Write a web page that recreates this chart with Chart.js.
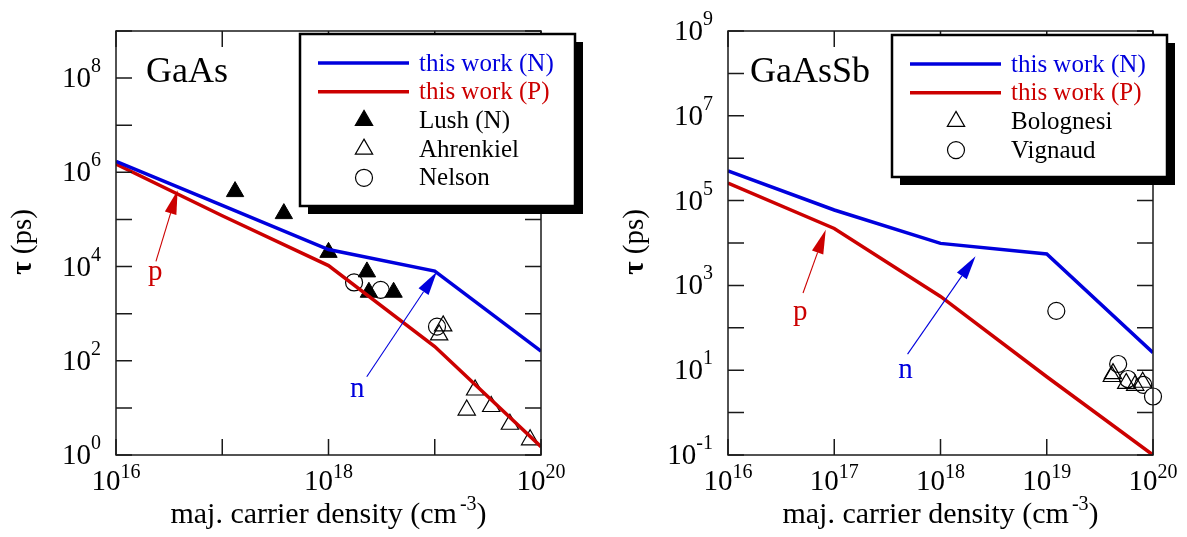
<!DOCTYPE html>
<html>
<head>
<meta charset="utf-8">
<script src="https://cdn.jsdelivr.net/npm/chart.js@4.4.0/dist/chart.umd.min.js"></script>
<style>
  html, body { margin: 0; padding: 0; background: #fff; }
  #wrap { position: relative; width: 1187px; height: 537px; overflow: hidden; }
  canvas { position: absolute; top: 0; }
  #gaas { left: 0; }
  #gaassb { left: 594px; }
</style>
</head>
<body>
<div id="wrap">
  <canvas id="gaas" width="593" height="537"></canvas>
  <canvas id="gaassb" width="593" height="537"></canvas>
</div>
<script>
// ---- data ----
const density = [1e16, 1e17, 1e18, 1e19, 1e20];

// GaAs
const gaasTauN = [1.7e6, 2.0e5, 2.3e4, 8.0e3, 1.6e2];
const gaasTauP = [1.5e6, 1.2e5, 1.05e4, 2.0e2, 1.5];
const lushDensity = [1.32e17, 3.8e17, 1.0e18, 2.3e18, 2.4e18, 4.1e18];
const lushTau = [3.9e5, 1.33e5, 2.0e4, 7.7e3, 2.85e3, 2.85e3];
const ahrenkielDensity = [1.2e19, 1.1e19, 2.4e19, 2.0e19, 3.4e19, 5.1e19, 7.9e19];
const ahrenkielTau = [550, 355, 24, 9, 10.7, 4.5, 2.1];
const nelsonDensity = [1.74e18, 3.1e18, 1.05e19];
const nelsonTau = [4.6e3, 3.2e3, 530];

// GaAsSb
const gaassbTauN = [5.0e5, 6.0e4, 9.8e3, 5.5e3, 26];
const gaassbTauP = [2.6e5, 2.2e4, 550, 7, 0.1];
const bolognesiDensity = [4.1e19, 4.2e19, 5.6e19, 6.8e19, 8.0e19];
const bolognesiTau = [7.1, 8.3, 4.9, 4.4, 5.2];
const vignaudDensity = [1.23e19, 4.7e19, 5.8e19, 8.1e19, 1.0e20];
const vignaudTau = [250, 14, 6.2, 4.5, 2.4];

// tick exponents
const gaasXTicks = [16, 17, 18, 19, 20];
const gaasXLabels = [16, 18, 20];
const gaasYTicks = [0, 1, 2, 3, 4, 5, 6, 7, 8, 9];
const gaasYLabels = [0, 2, 4, 6, 8];
const gaassbXTicks = [16, 17, 18, 19, 20];
const gaassbXLabels = [16, 17, 18, 19, 20];
const gaassbYTicks = [-1, 0, 1, 2, 3, 4, 5, 6, 7, 8, 9];
const gaassbYLabels = [-1, 1, 3, 5, 7, 9];

// annotation arrows (data coords): [x0, y0, x1, y1]
const gaasArrowP = [10 ** 16.376, 10 ** 4.11, 10 ** 16.58, 10 ** 5.62];
const gaasArrowN = [10 ** 18.36, 10 ** 1.66, 10 ** 19.02, 10 ** 3.89];
const gaassbArrowP = [10 ** 16.706, 10 ** 2.82, 10 ** 16.92, 10 ** 4.31];
const gaassbArrowN = [10 ** 17.69, 10 ** 1.38, 10 ** 18.33, 10 ** 3.69];

const SERIF = "'Liberation Serif', 'Times New Roman', serif";
const INK = '#1a1a1a';
const BLUE = '#0000dd';
const RED = '#cc0000';

const pts = (xs, ys) => xs.map((x, i) => ({ x: x, y: ys[i] }));

function lineSet(label, ys, color) {
  return {
    label: label, data: pts(density, ys), showLine: true,
    borderColor: color, backgroundColor: color, borderWidth: 3.5,
    pointRadius: 0, tension: 0, kind: 'line'
  };
}

function markerSet(label, xs, ys, style, filled) {
  const r = style === 'circle' ? 8.5 : 10;
  return {
    label: label, data: pts(xs, ys), showLine: false, clip: false,
    pointStyle: style, pointRadius: r,
    pointBackgroundColor: filled ? '#000' : (style === 'circle' ? '#fff' : 'rgba(0,0,0,0)'),
    pointBorderColor: '#000', pointBorderWidth: filled ? 1 : 1.2,
    kind: 'marker'
  };
}

function drawMarker(ctx, style, filled, x, y) {
  ctx.save();
  ctx.lineWidth = 1.2;
  ctx.strokeStyle = '#000';
  ctx.fillStyle = filled ? '#000' : '#fff';
  ctx.beginPath();
  if (style === 'circle') {
    ctx.arc(x, y, 8.5, 0, Math.PI * 2);
  } else {
    const r = 10;
    ctx.moveTo(x, y - r);
    ctx.lineTo(x + r * Math.sin(Math.PI / 3), y + r / 2);
    ctx.lineTo(x - r * Math.sin(Math.PI / 3), y + r / 2);
    ctx.closePath();
  }
  ctx.fill();
  ctx.stroke();
  ctx.restore();
}

function power(ctx, exp, x, y, align, rise) {
  const base = '10', sup = String(exp);
  ctx.font = '29px ' + SERIF;
  const wb = ctx.measureText(base).width;
  ctx.font = '20px ' + SERIF;
  const ws = ctx.measureText(sup).width;
  const x0 = align === 'center' ? x - (wb + ws) / 2 : x - (wb + ws);
  ctx.textAlign = 'left';
  ctx.textBaseline = 'alphabetic';
  ctx.font = '29px ' + SERIF;
  ctx.fillText(base, x0, y);
  ctx.font = '20px ' + SERIF;
  ctx.fillText(sup, x0 + wb, y - rise);
}

function arrow(ctx, sx, sy, a, color) {
  const x0 = sx.getPixelForValue(a[0]), y0 = sy.getPixelForValue(a[1]);
  const x1 = sx.getPixelForValue(a[2]), y1 = sy.getPixelForValue(a[3]);
  const ang = Math.atan2(y1 - y0, x1 - x0);
  const len = 24, half = 6;
  const bx = x1 - len * Math.cos(ang), by = y1 - len * Math.sin(ang);
  ctx.save();
  ctx.strokeStyle = color;
  ctx.fillStyle = color;
  ctx.lineWidth = 1.1;
  ctx.beginPath();
  ctx.moveTo(x0, y0);
  ctx.lineTo(bx, by);
  ctx.stroke();
  ctx.beginPath();
  ctx.moveTo(x1, y1);
  ctx.lineTo(bx + half * Math.sin(ang), by - half * Math.cos(ang));
  ctx.lineTo(bx - half * Math.sin(ang), by + half * Math.cos(ang));
  ctx.closePath();
  ctx.fill();
  ctx.restore();
}

const decor = {
  id: 'decor',
  afterDatasetsDraw(chart, args, o) {
    const ctx = chart.ctx;
    const a = chart.chartArea;
    const sx = chart.scales.x, sy = chart.scales.y;
    ctx.save();

    // frame + inward ticks on all four sides
    ctx.strokeStyle = INK;
    ctx.lineWidth = 1.5;
    ctx.strokeRect(a.left, a.top, a.right - a.left, a.bottom - a.top);
    ctx.beginPath();
    o.xTicks.forEach(e => {
      const px = sx.getPixelForValue(10 ** e);
      ctx.moveTo(px, a.bottom); ctx.lineTo(px, a.bottom - 16);
      ctx.moveTo(px, a.top); ctx.lineTo(px, a.top + 16);
    });
    o.yTicks.forEach(e => {
      const py = sy.getPixelForValue(10 ** e);
      ctx.moveTo(a.left, py); ctx.lineTo(a.left + 16, py);
      ctx.moveTo(a.right, py); ctx.lineTo(a.right - 16, py);
    });
    ctx.stroke();

    // tick labels
    ctx.fillStyle = '#000';
    o.xLabels.forEach(e => power(ctx, e, sx.getPixelForValue(10 ** e), 490, 'center', 12));
    o.yLabels.forEach(e => power(ctx, e, a.left - 15, sy.getPixelForValue(10 ** e) + 9, 'right', 15));

    // x axis title
    const t1 = 'maj. carrier density (cm', t2 = '-3', t3 = ')';
    ctx.font = '30px ' + SERIF;
    const w1 = ctx.measureText(t1).width, w3 = ctx.measureText(t3).width;
    ctx.font = '20px ' + SERIF;
    const w2 = ctx.measureText(t2).width;
    let tx = (a.left + a.right) / 2 - (w1 + w2 + w3 + 3) / 2;
    ctx.textAlign = 'left';
    ctx.textBaseline = 'alphabetic';
    ctx.font = '30px ' + SERIF;
    ctx.fillText(t1, tx, 523);
    ctx.font = '20px ' + SERIF;
    ctx.fillText(t2, tx + w1 + 3, 510);
    ctx.font = '30px ' + SERIF;
    ctx.fillText(t3, tx + w1 + 3 + w2, 523);

    // y axis title (rotated)
    ctx.save();
    ctx.translate(a.left - 85, 242);
    ctx.rotate(-Math.PI / 2);
    ctx.font = 'bold 29px ' + SERIF;
    const wt = ctx.measureText('\u03c4').width;
    ctx.font = '29px ' + SERIF;
    const wp = ctx.measureText(' (ps)').width;
    ctx.font = 'bold 29px ' + SERIF;
    ctx.fillText('\u03c4', -(wt + wp) / 2, 0);
    ctx.font = '29px ' + SERIF;
    ctx.fillText(' (ps)', -(wt + wp) / 2 + wt, 0);
    ctx.restore();

    // arrows and p / n notes
    o.arrows.forEach(ar => arrow(ctx, sx, sy, ar.at, ar.color));
    ctx.font = '29px ' + SERIF;
    ctx.textAlign = 'center';
    o.notes.forEach(n => {
      ctx.fillStyle = n.color;
      ctx.fillText(n.text, sx.getPixelForValue(n.at[0]), sy.getPixelForValue(n.at[1]));
    });

    // panel title
    ctx.fillStyle = '#000';
    ctx.textAlign = 'left';
    ctx.font = '36px ' + SERIF;
    ctx.fillText(o.title, a.left + o.titleDx, a.top + 51);

    // legend box with drop shadow
    const b = o.box;
    ctx.fillStyle = '#000';
    ctx.fillRect(b.x + 8, b.y + 8, b.w, b.h);
    ctx.fillStyle = '#fff';
    ctx.fillRect(b.x, b.y, b.w, b.h);
    ctx.strokeStyle = '#000';
    ctx.lineWidth = 2.5;
    ctx.strokeRect(b.x, b.y, b.w, b.h);
    ctx.textBaseline = 'middle';
    ctx.font = '25px ' + SERIF;
    chart.data.datasets.forEach((ds, i) => {
      const ry = b.y + 29 + i * 28.7;
      if (ds.kind === 'line') {
        ctx.strokeStyle = ds.borderColor;
        ctx.lineWidth = 3.5;
        ctx.beginPath();
        ctx.moveTo(b.x + 18, ry);
        ctx.lineTo(b.x + 109, ry);
        ctx.stroke();
        ctx.fillStyle = ds.borderColor;
      } else {
        drawMarker(ctx, ds.pointStyle, ds.pointBackgroundColor === '#000', b.x + 64, ry);
        ctx.fillStyle = '#000';
      }
      ctx.fillText(ds.label, b.x + 119, ry + 1);
    });

    ctx.restore();
  }
};

function makeChart(id, datasets, yMin, pad, decorOpts) {
  return new Chart(document.getElementById(id), {
    type: 'scatter',
    data: { datasets: datasets },
    options: {
      responsive: false,
      animation: false,
      events: [],
      devicePixelRatio: 1,
      layout: { padding: pad },
      scales: {
        x: { type: 'logarithmic', min: 1e16, max: 1e20, display: false },
        y: { type: 'logarithmic', min: yMin, max: 1e9, display: false }
      },
      plugins: {
        legend: { display: false },
        tooltip: { enabled: false },
        decor: decorOpts
      }
    },
    plugins: [decor]
  });
}

makeChart('gaas', [
  lineSet('this work (N)', gaasTauN, BLUE),
  lineSet('this work (P)', gaasTauP, RED),
  markerSet('Lush (N)', lushDensity, lushTau, 'triangle', true),
  markerSet('Ahrenkiel', ahrenkielDensity, ahrenkielTau, 'triangle', false),
  markerSet('Nelson', nelsonDensity, nelsonTau, 'circle', false)
], 1, { left: 116, right: 52, top: 31, bottom: 82 }, {
  xTicks: gaasXTicks, xLabels: gaasXLabels, yTicks: gaasYTicks, yLabels: gaasYLabels,
  title: 'GaAs', titleDx: 30,
  box: { x: 300, y: 34, w: 275, h: 172 },
  arrows: [{ at: gaasArrowP, color: RED }, { at: gaasArrowN, color: BLUE }],
  notes: [
    { text: 'p', at: [10 ** 16.37, 10 ** 3.72], color: RED },
    { text: 'n', at: [10 ** 18.27, 10 ** 1.23], color: BLUE }
  ]
});

makeChart('gaassb', [
  lineSet('this work (N)', gaassbTauN, BLUE),
  lineSet('this work (P)', gaassbTauP, RED),
  markerSet('Bolognesi', bolognesiDensity, bolognesiTau, 'triangle', false),
  markerSet('Vignaud', vignaudDensity, vignaudTau, 'circle', false)
], 0.1, { left: 134, right: 34, top: 31, bottom: 82 }, {
  xTicks: gaassbXTicks, xLabels: gaassbXLabels, yTicks: gaassbYTicks, yLabels: gaassbYLabels,
  title: 'GaAsSb', titleDx: 22,
  box: { x: 298, y: 35, w: 275, h: 142 },
  arrows: [{ at: gaassbArrowP, color: RED }, { at: gaassbArrowN, color: BLUE }],
  notes: [
    { text: 'p', at: [10 ** 16.68, 10 ** 2.18], color: RED },
    { text: 'n', at: [10 ** 17.67, 10 ** 0.82], color: BLUE }
  ]
});
</script>
</body>
</html>
